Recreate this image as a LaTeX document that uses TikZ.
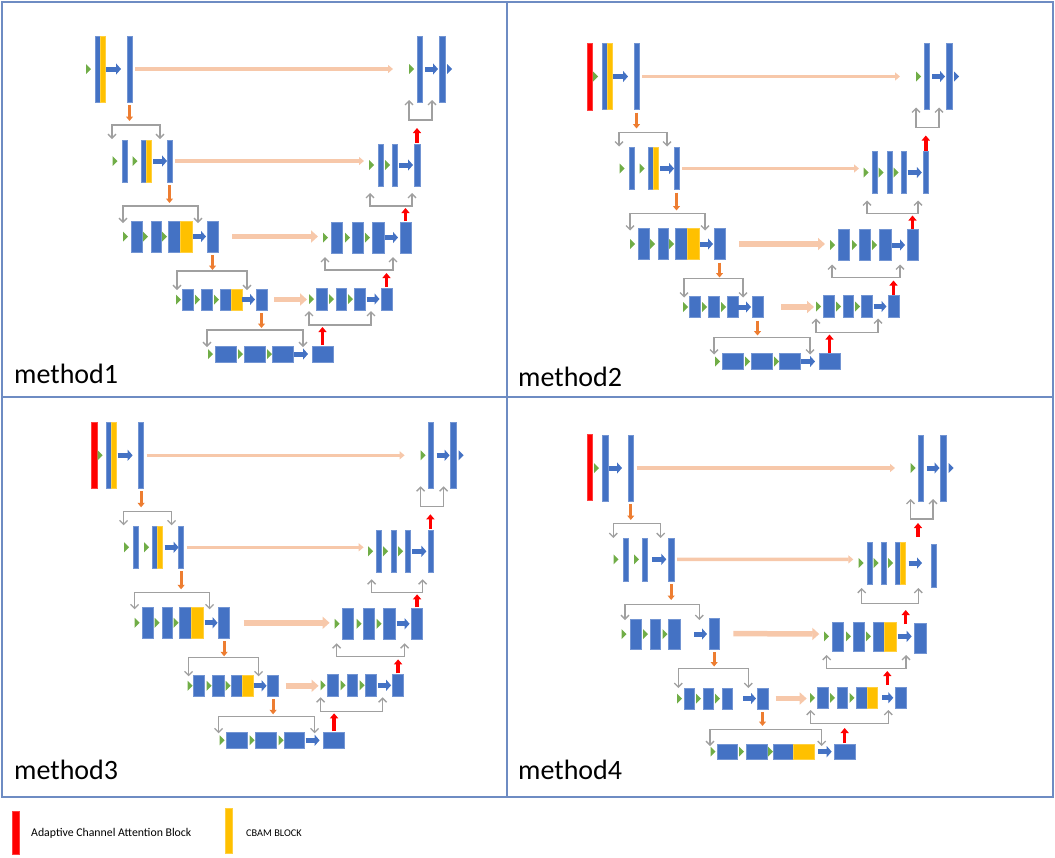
\documentclass[tikz,border=0pt]{standalone}
\usepackage{fontspec}
\setmainfont{Carlito}
\usepackage{tikz}
\usetikzlibrary{arrows.meta}

\definecolor{unetblue}{RGB}{68,114,196}
\definecolor{cbamc}{RGB}{255,192,0}
\definecolor{acac}{RGB}{255,0,0}
\definecolor{trigreen}{RGB}{112,173,71}
\definecolor{skipc}{RGB}{247,200,170}
\definecolor{downc}{RGB}{237,125,49}
\definecolor{brgray}{RGB}{160,160,160}
\definecolor{framec}{RGB}{110,140,195}

\tikzset{
  blk/.style={rectangle,inner sep=0pt,outer sep=0pt,line width=0.4pt},
  barrow/.style={unetblue,line width=5pt,-{Triangle[length=5pt,width=11pt]}},
  skip/.style={skipc,line width=3.4pt,shorten <=3pt,-{Triangle[length=5pt,width=8pt]}},
  skipw/.style={skipc,line width=5.5pt,shorten <=3pt,-{Triangle[length=7pt,width=12pt]}},
  down/.style={downc,line width=3pt,shorten <=3pt,-{Triangle[length=4.5pt,width=7pt]}},
  up/.style={acac,line width=3.5pt,shorten <=1pt,-{Triangle[length=5pt,width=8pt]}},
  bracket/.style={brgray,line width=1.3pt,{Straight Barb[length=4pt,width=8pt]}-{Straight Barb[length=4pt,width=8pt]}},
  frame/.style={framec,line width=1.3pt},
  lbl/.style={anchor=west,inner sep=0pt,font=\fontsize{28}{30}\selectfont}
}

% block: [colour]{name}{x1}{x2}{y1}{y2}, in pixels
\newcommand{\blk}[6][unetblue]{\node[blk,fill=#1,draw=#1!75!white,minimum width=#4pt-#3pt,minimum height=#6pt-#5pt] (#2) at ({(#3+#4)/2},{(#5+#6)/2}) {};}
% small triangle: [colour]{left x}{centre y}
\newcommand{\gtri}[3][trigreen]{\fill[#1] (#2,#3-5) -- ++(5,5) -- ++(-5,5) -- cycle;}

% parts shared by method1 to method3
\newcommand{\unetcommon}{%
  % encoder level 0
  \gtri{86}{69}
  \blk{e0a}{95}{100}{36}{102}
  \blk[cbamc]{e0y}{100}{105}{36}{102}
  \blk{e0b}{127}{132}{36}{102}
  \draw[barrow,shorten <=1pt,shorten >=6pt] (e0y.east) -- (e0y.east -| e0b.west);
  \coordinate (s0) at (393,69);
  \draw[skip] (e0b.east) -- (s0);
  \draw[down] (e0b.south) -- ++(0,19);
  \draw[bracket] (112,139) -- (112,125) -- (160,125) -- (160,139);
  % encoder level 1
  \gtri{112.5}{161}
  \blk{e1a}{122}{127}{140}{182}
  \gtri{132.5}{161}
  \blk{e1b}{141}{146}{140}{182}
  \blk[cbamc]{e1y}{146}{151}{140}{182}
  \blk{e1c}{167}{172}{140}{182}
  \draw[barrow,shorten <=2pt] (e1y.east) -- (e1y.east -| e1c.west);
  \draw[down] (e1c.south) -- ++(0,21);
  \draw[bracket] (123,223) -- (123,206) -- (198,206) -- (198,223);
  % encoder level 2
  \gtri{123}{236.5}
  \blk{e2a}{131}{142}{221}{252}
  \gtri{143}{236.5}
  \blk{e2b}{151}{161}{221}{252}
  \gtri{162}{236.5}
  \blk{e2c}{168}{180}{221}{252}
  \blk[cbamc]{e2y}{180}{192}{221}{252}
  \blk{e2d}{207}{218}{221}{252}
  \draw[barrow,shorten <=1pt,shorten >=1pt] (e2y.east) -- (e2y.east -| e2d.west);
  \coordinate (s2) at (318,236.5);
  \draw[skipw,shorten <=14pt] (e2d.east) -- (s2);
  \draw[down] (e2d.south) -- ++(0,18);
  % encoder level 3
  \gtri{176}{299.5}
  \blk{e3a}{182}{193}{289}{310}
  \gtri{195}{299.5}
  \blk{e3b}{201}{212.5}{289}{310}
  \gtri{214}{299.5}
  \blk{e3c}{220}{231}{289}{310}
  \draw[bracket] (207,347) -- (207,330) -- (303,330) -- (303,347);
  % bottom
  \gtri{208}{354}
  \blk{e4a}{215}{236}{346}{362}
  \gtri{238}{354}
  \blk{e4b}{244}{265}{346}{362}
  \gtri{267}{354}
  \blk{e4c}{272.5}{293}{346}{362}
  \blk{e4d}{312}{333}{346}{362}
  \draw[barrow,shorten <=1pt,shorten >=4pt] (e4c.east) -- (e4c.east -| e4d.west);
  \draw[up] (e4d.north) -- ++(0,-19);
  % decoder level 3
  \gtri{309}{299}
  \blk{d3a}{316}{327}{288}{310}
  \gtri{329}{299}
  \blk{d3b}{336}{346}{288}{310}
  \gtri{348}{299}
  \blk{d3c}{354}{365}{288}{310}
  \blk{d3d}{381}{392}{288}{310}
  \draw[barrow,shorten <=1.5pt,shorten >=1.5pt] (d3c.east) -- (d3c.east -| d3d.west);
  \draw[bracket] (309,311) -- (309,325) -- (371,325) -- (371,311);
  \draw[up] (d3d.north) -- ++(0,-15);
  % decoder level 2
  \gtri{323}{237.5}
  \blk{d2a}{331}{342}{222}{253}
  \gtri{345}{237.5}
  \blk{d2b}{352}{363}{222}{253}
  \gtri{365}{237.5}
  \blk{d2c}{372}{384}{222}{253}
  \blk{d2d}{400}{411}{222}{253}
  \draw[barrow,shorten <=1pt,shorten >=2pt] (d2c.east) -- (d2c.east -| d2d.west);
  \draw[bracket] (325,257) -- (325,270) -- (393,270) -- (393,257);
  \draw[up] (d2d.north) -- ++(0,-14);
  % decoder level 0
  \gtri{409}{69}
  \blk{d0a}{417}{422}{36}{102}
  \blk{d0b}{439}{445}{36}{102}
  \draw[barrow,shorten <=3pt,shorten >=1pt] (d0a.east) -- (d0a.east -| d0b.west);
  \gtri[unetblue]{447}{69}
  \draw[bracket] (409,100) -- (409,120) -- (432,120) -- (432,100);
}

% encoder level 3, with or without CBAM
\newcommand{\encthreecbam}{%
  \blk[cbamc]{e3y}{231}{242}{289}{310}
  \blk{e3d}{256}{267}{289}{310}
  \draw[barrow,shorten >=1pt] (e3y.east) -- (e3y.east -| e3d.west);
  \draw[bracket] (177,290) -- (177,271) -- (247,271) -- (247,290);
  \draw[down] (e3d.south) -- ++(0,18);
  \coordinate (s3) at (307,299.5);
  \draw[skipw,shorten <=7pt] (e3d.east) -- (s3);
}
\newcommand{\encthreeplain}{%
  \blk{e3d}{245}{256}{289}{310}
  \draw[barrow,shorten >=1pt] (e3c.east) -- (e3c.east -| e3d.west);
  \draw[bracket] (177,290) -- (177,271) -- (236,271) -- (236,290);
  \draw[down] (e3d.south) -- ++(0,18);
  \coordinate (s3) at (307,299.5);
  \draw[skipw,shorten <=18pt] (e3d.east) -- (s3);
}

% decoder level 1, two or three bars
\newcommand{\deconetwo}{%
  \gtri{369}{165}
  \blk{d1a}{378}{383}{144}{186}
  \gtri{385}{165}
  \blk{d1b}{392}{397}{144}{186}
  \blk{d1c}{414}{420}{144}{186}
  \draw[barrow,shorten <=2pt,shorten >=1pt] (d1b.east) -- (d1b.east -| d1c.west);
  \draw[bracket] (370,193) -- (370,206) -- (412,206) -- (412,193);
  \draw[up] (d1c.north) -- ++(0,-16);
  \coordinate (s1) at (364,161);
  \draw[skip] (e1c.east) -- (s1);
}
\newcommand{\deconethree}{%
  \gtri{356.5}{165}
  \blk{d1a}{364.7}{369.7}{144}{186}
  \gtri{371.5}{165}
  \blk{d1b}{379.7}{384.7}{144}{186}
  \gtri{386.5}{165}
  \blk{d1c}{393.7}{399}{144}{186}
  \blk{d1d}{416.3}{421.3}{144}{186}
  \draw[barrow,shorten <=1.5pt,shorten >=1.5pt] (d1c.east) -- (d1c.east -| d1d.west);
  \draw[bracket] (360,193) -- (360,206) -- (411,206) -- (411,193);
  \draw[up] (d1d.north) -- ++(0,-16);
  \coordinate (s1) at (352,161);
  \draw[skip] (e1c.east) -- (s1);
}

\begin{document}
\begin{tikzpicture}[x=1pt,y=-1pt]
\useasboundingbox (0,0) rectangle (1055,857);
% panels
\draw[frame] (2,2) rectangle (1053,797);
\draw[frame] (507,2) -- (507,797);
\draw[frame] (2,397) -- (1053,397);

% method1
\begin{scope}
  \unetcommon
  \encthreecbam
  \deconetwo
\end{scope}
\node[lbl] (m1) at (14,374) {method1};

% method2
\begin{scope}[shift={(507,7.5)}]
  \blk[acac]{r0}{80}{85.5}{36}{102.5}
  \unetcommon
  \encthreeplain
  \deconethree
\end{scope}
\node[lbl] (m2) at (518,377) {method2};

% method3
\begin{scope}[shift={(11.6,386.3)}]
  \blk[acac]{r0}{80}{85.5}{35.5}{101.5}
  \unetcommon
  \encthreecbam
  \deconethree
\end{scope}
\node[lbl] (m3) at (14,770) {method3};

% method4 (absolute pixels)
\begin{scope}
  % encoder level 0
  \blk[acac]{r0}{586.7}{592.3}{434}{500}
  \gtri{594}{468}
  \blk{e0a}{602}{608}{435}{501}
  \blk{e0b}{628}{633.5}{435}{501}
  \draw[barrow,shorten <=1pt,shorten >=6pt] (e0a.east) -- (e0a.east -| e0b.west);
  \coordinate (s0) at (895,468);
  \draw[skip] (e0b.east) -- (s0);
  \draw[down] (e0b.south) -- ++(0,19);
  \draw[bracket] (613.3,538) -- (613.3,523.3) -- (660.7,523.3) -- (660.7,538);
  % encoder level 1
  \gtri{613.5}{559.4}
  \blk{e1a}{623.3}{628.3}{537.7}{581}
  \gtri{634}{559.4}
  \blk{e1b}{642.3}{647.3}{537.7}{581}
  \blk{e1c}{668.3}{674}{537.7}{581}
  \draw[barrow,shorten <=5pt,shorten >=2pt] (e1b.east) -- (e1b.east -| e1c.west);
  \coordinate (s1) at (853.3,559.4);
  \draw[skip] (e1c.east) -- (s1);
  \draw[down] (e1c.south) -- ++(0,19);
  \draw[bracket] (625,620) -- (625,604.3) -- (699.3,604.3) -- (699.3,620);
  % encoder level 2
  \gtri{621.5}{634}
  \blk{e2a}{630}{641}{619}{649}
  \gtri{643}{634}
  \blk{e2b}{650}{660.5}{619}{649}
  \gtri{662.5}{634}
  \blk{e2c}{668.5}{680.5}{619}{649}
  \blk{e2d}{709}{719.3}{618}{649}
  \draw[barrow,shorten <=13.5pt,shorten >=2pt] (e2c.east) -- (e2c.east -| e2d.west);
  \coordinate (s2) at (819.3,634);
  \draw[skipw,shorten <=14pt] (e2d.east) -- (s2);
  \draw[down] (e2d.south) -- ++(0,17.5);
  \draw[bracket] (678.3,688) -- (678.3,668.3) -- (748.3,668.3) -- (748.3,688);
  % encoder level 3
  \gtri{677}{698.5}
  \blk{e3a}{684}{694.3}{688}{709}
  \gtri{696}{698.5}
  \blk{e3b}{703.3}{713.3}{688}{709}
  \gtri{715}{698.5}
  \blk{e3c}{721.7}{731.7}{688}{709}
  \blk{e3d}{757.3}{767.7}{688}{709}
  \draw[barrow,shorten <=11.5pt,shorten >=1.3pt] (e3c.east) -- (e3c.east -| e3d.west);
  \coordinate (s3) at (806.7,698.5);
  \draw[skipw,shorten <=8pt] (e3d.east) -- (s3);
  \draw[down] (e3d.south) -- ++(0,17);
  \draw[bracket] (710,746) -- (710,729.3) -- (821.7,729.3) -- (821.7,746);
  % bottom
  \gtri{710.5}{751.7}
  \blk{e4a}{716.7}{737.3}{744}{759.3}
  \gtri{739}{751.7}
  \blk{e4b}{745.7}{766.7}{744}{759.3}
  \gtri{768}{751.7}
  \blk{e4c}{773.3}{793.3}{744}{759.3}
  \blk[cbamc]{e4y}{793.3}{814}{744}{759.3}
  \blk{e4d}{834.3}{855}{744}{759.3}
  \draw[barrow,shorten <=4.3pt,shorten >=2.6pt] (e4y.east) -- (e4y.east -| e4d.west);
  \draw[up] (e4d.north) -- ++(0,-16);
  % decoder level 3
  \gtri{810}{697.8}
  \blk{d3a}{817.3}{827.7}{687.3}{708.3}
  \gtri{830}{697.8}
  \blk{d3b}{836.7}{847.3}{687.3}{708.3}
  \gtri{849.5}{697.8}
  \blk{d3c}{856}{866.7}{687.3}{708.3}
  \blk[cbamc]{d3y}{866.7}{877.3}{687.3}{708.3}
  \blk{d3d}{895}{906}{687.3}{708.3}
  \draw[barrow,shorten <=5pt,shorten >=1.7pt] (d3y.east) -- (d3y.east -| d3d.west);
  \draw[bracket] (810.7,710) -- (810.7,723.3) -- (888.3,723.3) -- (888.3,710);
  \coordinate (u3) at (887.3,686);
  \draw[up] (u3) -- ++(0,-15);
  % decoder level 2
  \gtri{824}{636.4}
  \blk{d2a}{832.3}{843.3}{621.7}{651}
  \gtri{846}{636.4}
  \blk{d2b}{853.3}{864}{621.7}{651}
  \gtri{866}{636.4}
  \blk{d2c}{873.3}{884.3}{621.7}{651}
  \blk[cbamc]{d2y}{884.3}{896}{621.7}{651}
  \blk{d2d}{914.3}{925.7}{623.3}{653.3}
  \draw[barrow,shorten <=2.3pt,shorten >=2.6pt] (d2y.east) -- (d2y.east -| d2d.west);
  \draw[bracket] (826.7,655) -- (826.7,668.3) -- (906,668.3) -- (906,655);
  \coordinate (u2) at (905.7,625);
  \draw[up] (u2) -- ++(0,-15);
  % decoder level 1
  \gtri{858.5}{563}
  \blk{d1a}{866.7}{871.7}{541.7}{584.3}
  \gtri{873.5}{563}
  \blk{d1b}{881}{886}{541.7}{584.3}
  \gtri{888}{563}
  \blk{d1c}{895.5}{900.5}{541.7}{584.3}
  \blk[cbamc]{d1y}{900.5}{905.5}{541.7}{584.3}
  \blk{d1d}{931}{936}{544}{587}
  \draw[barrow,shorten <=3pt,shorten >=9pt] (d1y.east) -- (d1y.east -| d1d.west);
  \draw[bracket] (861.7,588) -- (861.7,603.3) -- (918.3,603.3) -- (918.3,588);
  \coordinate (u1) at (918,538);
  \draw[up] (u1) -- ++(0,-15);
  % decoder level 0
  \gtri{910.5}{468}
  \blk{d0a}{918}{923.5}{435}{501}
  \blk{d0b}{940.5}{946.5}{435}{501}
  \draw[barrow,shorten <=3pt,shorten >=1pt] (d0a.east) -- (d0a.east -| d0b.west);
  \gtri[unetblue]{948.5}{468}
  \draw[bracket] (910.5,499) -- (910.5,519) -- (933,519) -- (933,499);
\end{scope}
\node[lbl] (m4) at (518,770) {method4};

% legend
\blk[acac]{lga}{12}{19}{811}{854}
\node[anchor=west,inner sep=0pt,font=\fontsize{11.8}{13}\selectfont] (lta) at (31,833) {Adaptive Channel Attention Block};
\blk[cbamc]{lgc}{225}{232.3}{808.3}{852.7}
\node[anchor=west,inner sep=0pt,font=\fontsize{10.3}{12}\selectfont] (ltc) at (246,833) {CBAM BLOCK};
\end{tikzpicture}
\end{document}
